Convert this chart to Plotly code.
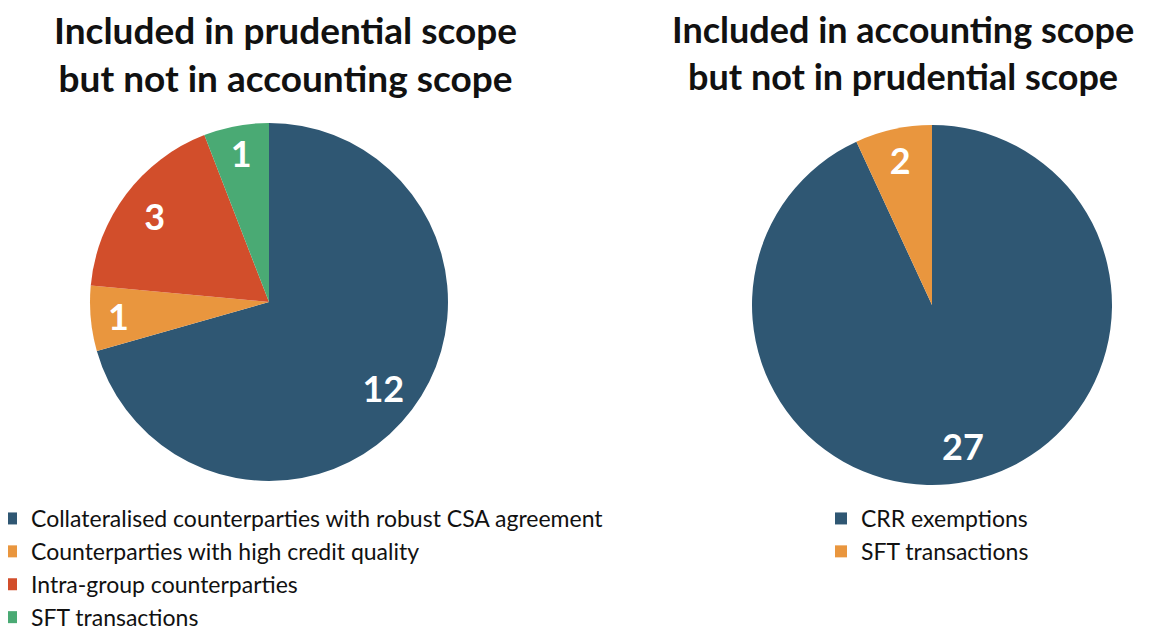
import plotly.graph_objects as go

left_labels = ["Collateralised counterparties with robust CSA agreement",
               "Counterparties with high credit quality",
               "Intra-group counterparties",
               "SFT transactions"]
left_values = [12, 1, 3, 1]
left_colors = ["#2F5773", "#E9963E", "#D24E2B", "#4AAA74"]

right_labels = ["CRR exemptions", "SFT transactions"]
right_values = [27, 2]
right_colors = ["#2F5773", "#E9963E"]

titles = ["Included in prudential scope<br>but not in accounting scope",
          "Included in accounting scope<br>but not in prudential scope"]

W, H = 1149, 633
FONT = "Lato"

left_dom = dict(x=[(261 - 179) / W, (261 + 179) / W], y=[1 - 473 / H, 1 - 115 / H])
right_dom = dict(x=[744 / W, 1104 / W], y=[1 - 477 / H, 1 - 117 / H])

fig = go.Figure()
for labels, values, colors, dom, leg, grp in [
    (left_labels, left_values, left_colors, left_dom, "legend", "left"),
    (right_labels, right_values, right_colors, right_dom, "legend2", "right"),
]:
    # coloured slices
    fig.add_trace(go.Pie(
        labels=labels, values=values, sort=False, direction="clockwise",
        rotation=0, marker=dict(colors=colors, line=dict(width=0)),
        textinfo="none", domain=dom, legend=leg, legendgroup=grp,
        hoverinfo="label+value",
    ))
    # transparent ring carrying the value labels towards the rim
    fig.add_trace(go.Pie(
        labels=labels, values=values, sort=False, direction="clockwise",
        rotation=0, hole=0.6,
        marker=dict(colors=["rgba(0,0,0,0)"] * len(values), line=dict(width=0)),
        textinfo="value", textposition="inside", insidetextorientation="horizontal",
        textfont=dict(color="white", size=36, family=FONT, weight="bold"),
        domain=dom, showlegend=False, hoverinfo="skip",
        legend=leg, legendgroup=grp + "_txt",
    ))

for t, cx, fs in zip(titles, [277, 895], [37, 36]):
    fig.add_annotation(text=t, x=cx / W, y=1 + 3 / H, xref="paper", yref="paper",
                       xanchor="center", yanchor="top", showarrow=False,
                       font=dict(size=fs, family=FONT, color="#111111", weight="bold"))

fig.update_layout(
    width=W, height=H, margin=dict(l=0, r=0, t=0, b=0, autoexpand=False),
    paper_bgcolor="white", plot_bgcolor="white",
    font=dict(family=FONT, color="#111111"),
    legend=dict(x=-17 / W, y=1 - 489 / H, xanchor="left", yanchor="top",
                font=dict(size=23, family=FONT, color="#111111"), bgcolor="rgba(0,0,0,0)"),
    legend2=dict(x=813 / W, y=1 - 489 / H, xanchor="left", yanchor="top",
                 font=dict(size=23, family=FONT, color="#111111"), bgcolor="rgba(0,0,0,0)"),
)

fig.write_html("out.html")
